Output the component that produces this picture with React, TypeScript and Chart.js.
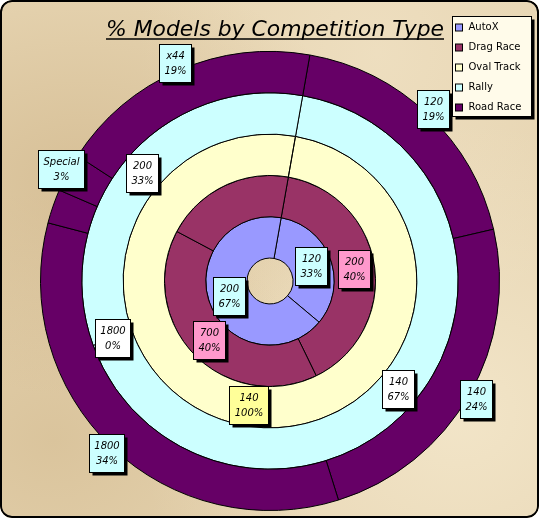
import React, { useEffect, useRef } from 'react';
import { Chart, registerables } from 'chart.js';

Chart.register(...registerables);

// ---- data ----
const chartTitle = '% Models by Competition Type';
const seriesNames = ['AutoX', 'Drag Race', 'Oval Track', 'Rally', 'Road Race'];

const autoXCats = ['120', '200'];
const autoXValues = [1, 2];

const dragCats = ['200', '700', ''];
const dragValues = [2, 2, 1];

const ovalCats = ['140'];
const ovalValues = [1];

const rallyCats = ['140', '1800', '200'];
const rallyValues = [2, 0, 1];

const roadCats = ['120', '140', '1800', '', 'Special', 'x44'];
const roadValues = [18.6, 23.8, 33.9, 2.4, 2.7, 18.6];

// ---- styles ----
const seriesColors = ['#9999FF', '#993366', '#FFFFCC', '#CCFFFF', '#660066'];
const labelBgColors = ['#CCFFFF', '#FF99CC', '#FFFF99', '#FFFFFF', '#CCFFFF'];

const FONT_FAMILY = '"DejaVu Sans", "Noto Sans", sans-serif';

const titlePlugin = {
  id: 'customTitle',
  afterDraw(chart: any) {
    const ctx = chart.ctx;
    ctx.save();
    ctx.font = `italic 21px ${FONT_FAMILY}`;
    ctx.fillStyle = '#000';
    ctx.textBaseline = 'alphabetic';
    const left = 106;
    const right = 444;
    const w = ctx.measureText(chartTitle).width;
    ctx.translate(left, 36);
    ctx.scale((right - left) / w, 1);
    ctx.fillText(chartTitle, 0, 0);
    ctx.restore();
    ctx.save();
    ctx.strokeStyle = '#000';
    ctx.lineWidth = 1.5;
    ctx.beginPath();
    ctx.moveTo(left, 39);
    ctx.lineTo(right, 39);
    ctx.stroke();
    ctx.restore();
  },
};

const legendPlugin = {
  id: 'customLegend',
  afterDraw(chart: any) {
    const ctx = chart.ctx;
    const bx = 452.5;
    const by = 16.5;
    const bw = 79;
    const bh = 100;
    ctx.save();
    ctx.fillStyle = '#000';
    ctx.fillRect(bx + 3, by + 3, bw, bh);
    ctx.fillStyle = '#FFFBEA';
    ctx.fillRect(bx, by, bw, bh);
    ctx.strokeStyle = '#000';
    ctx.lineWidth = 1;
    ctx.strokeRect(bx, by, bw, bh);
    ctx.font = `10px ${FONT_FAMILY}`;
    ctx.textBaseline = 'middle';
    seriesNames.forEach((name, i) => {
      const cy = by + 11 + i * 20;
      ctx.fillStyle = seriesColors[i];
      ctx.fillRect(bx + 3, cy - 3.5, 7, 7);
      ctx.strokeStyle = '#000';
      ctx.strokeRect(bx + 3, cy - 3.5, 7, 7);
      ctx.fillStyle = '#000';
      ctx.fillText(name, bx + 16, cy);
    });
    ctx.restore();
  },
};

const labelPlugin = {
  id: 'boxLabels',
  afterDatasetsDraw(chart: any) {
    const ctx = chart.ctx;
    ctx.save();
    ctx.font = `italic 10px ${FONT_FAMILY}`;
    ctx.textAlign = 'center';
    ctx.textBaseline = 'middle';
    chart.data.datasets.forEach((ds: any, di: number) => {
      const meta = chart.getDatasetMeta(di);
      const total = ds.data.reduce((a: number, b: number) => a + b, 0);
      meta.data.forEach((arc: any, i: number) => {
        const cat = ds.cats[i];
        if (!cat) return;
        const p = arc.getProps(['x', 'y', 'startAngle', 'endAngle', 'innerRadius', 'outerRadius'], true);
        const mid = (p.startAngle + p.endAngle) / 2;
        const r = ds.labelAtEdge ? p.outerRadius + 8 : (p.innerRadius + p.outerRadius) / 2;
        const cx = p.x + Math.cos(mid) * r;
        const cy = p.y + Math.sin(mid) * r;
        const pct = Math.round((ds.data[i] / total) * 100) + '%';
        const w = Math.round(Math.max(ctx.measureText(cat).width, ctx.measureText(pct).width) + 10);
        const h = 38;
        const x0 = Math.round(cx - w / 2) + 0.5;
        const y0 = Math.round(cy - h / 2) + 0.5;
        ctx.fillStyle = '#000';
        ctx.fillRect(x0 + 3, y0 + 3, w, h);
        ctx.fillStyle = ds.labelBg;
        ctx.fillRect(x0, y0, w, h);
        ctx.strokeStyle = '#000';
        ctx.lineWidth = 1;
        ctx.strokeRect(x0, y0, w, h);
        ctx.fillStyle = '#000';
        ctx.fillText(cat, x0 + w / 2, y0 + 12);
        ctx.fillText(pct, x0 + w / 2, y0 + 27);
      });
    });
    ctx.restore();
  },
};

export default function App() {
  const canvasRef = useRef<HTMLCanvasElement | null>(null);

  useEffect(() => {
    const canvas = canvasRef.current;
    if (!canvas) return;
    const mk = (idx: number, cats: string[], values: number[], edge = false) => ({
      label: seriesNames[idx],
      data: values,
      cats,
      backgroundColor: seriesColors[idx],
      borderColor: '#000',
      borderWidth: 1,
      labelBg: labelBgColors[idx],
      labelAtEdge: edge,
    });
    const chart = new Chart(canvas, {
      type: 'doughnut',
      data: {
        labels: roadCats,
        datasets: [
          mk(4, roadCats, roadValues, true),
          mk(3, rallyCats, rallyValues),
          mk(2, ovalCats, ovalValues),
          mk(1, dragCats, dragValues),
          mk(0, autoXCats, autoXValues),
        ] as any,
      },
      options: {
        responsive: false,
        animation: false,
        events: [],
        rotation: 10,
        cutout: '10%',
        layout: { padding: { left: 40, right: 39, top: 51, bottom: 7 } },
        plugins: {
          legend: { display: false },
          tooltip: { enabled: false },
          title: { display: false },
        },
      } as any,
      plugins: [labelPlugin, titlePlugin, legendPlugin],
    });
    return () => chart.destroy();
  }, []);

  return (
    <div
      style={{
        position: 'fixed',
        left: 0,
        top: 0,
        width: 539,
        height: 518,
        borderRadius: 12,
        overflow: 'hidden',
        background:
          'radial-gradient(ellipse at 15% 35%, rgba(196,166,118,0.45), rgba(196,166,118,0) 45%),' +
          'radial-gradient(ellipse at 10% 85%, rgba(200,172,125,0.4), rgba(200,172,125,0) 40%),' +
          'radial-gradient(ellipse at 85% 80%, rgba(250,240,215,0.6), rgba(250,240,215,0) 50%),' +
          'radial-gradient(ellipse at 70% 10%, rgba(245,232,205,0.5), rgba(245,232,205,0) 45%),' +
          '#E6D4B1',
      }}
    >
      <canvas ref={canvasRef} width={539} height={518} style={{ position: 'absolute', left: 0, top: 0 }} />
      <div
        style={{
          position: 'absolute',
          left: 0,
          top: 0,
          width: 539,
          height: 518,
          boxSizing: 'border-box',
          border: '2px solid #000',
          borderRadius: 12,
          pointerEvents: 'none',
        }}
      />
    </div>
  );
}
